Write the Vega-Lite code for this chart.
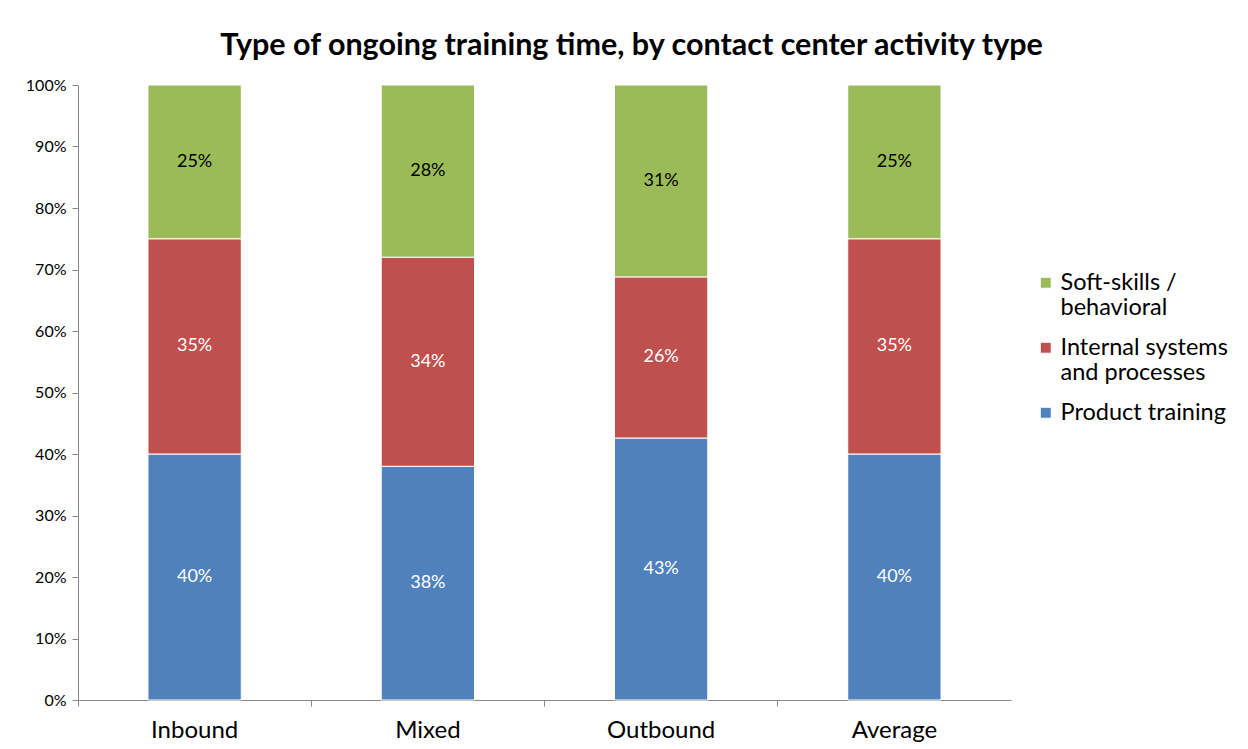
{
  "$schema": "https://vega.github.io/schema/vega-lite/v6.json",
  "width": 933,
  "height": 615,
  "padding": {"left": 25, "top": 30, "right": 5, "bottom": 5},
  "background": "white",
  "title": {
    "text": "Type of ongoing training time, by contact center activity type",
    "font": "Lato",
    "fontSize": 30.5,
    "fontWeight": "bold",
    "color": "#000000",
    "anchor": "middle",
    "dx": 87,
    "offset": 16
  },
  "data": {
    "values": [
      {"activity": "Inbound", "type": "Product training", "value": 0.40},
      {"activity": "Inbound", "type": "Internal systems|and processes", "value": 0.35},
      {"activity": "Inbound", "type": "Soft-skills /|behavioral", "value": 0.25},
      {"activity": "Mixed", "type": "Product training", "value": 0.38},
      {"activity": "Mixed", "type": "Internal systems|and processes", "value": 0.34},
      {"activity": "Mixed", "type": "Soft-skills /|behavioral", "value": 0.28},
      {"activity": "Outbound", "type": "Product training", "value": 0.426},
      {"activity": "Outbound", "type": "Internal systems|and processes", "value": 0.262},
      {"activity": "Outbound", "type": "Soft-skills /|behavioral", "value": 0.312},
      {"activity": "Average", "type": "Product training", "value": 0.40},
      {"activity": "Average", "type": "Internal systems|and processes", "value": 0.35},
      {"activity": "Average", "type": "Soft-skills /|behavioral", "value": 0.25}
    ]
  },
  "transform": [
    {"calculate": "indexof(['Product training','Internal systems|and processes','Soft-skills /|behavioral'], datum.type)", "as": "stackOrder"},
    {"stack": "value", "groupby": ["activity"], "sort": [{"field": "stackOrder", "order": "ascending"}], "as": ["y0", "y1"]},
    {"calculate": "(datum.y0 + datum.y1) / 2", "as": "ymid"}
  ],
  "encoding": {
    "x": {
      "field": "activity",
      "type": "nominal",
      "sort": ["Inbound", "Mixed", "Outbound", "Average"],
      "scale": {"paddingInner": 0.6, "paddingOuter": 0.3},
      "axis": {
        "title": null,
        "labelAngle": 0,
        "labelFont": "Lato",
        "labelFontSize": 24,
        "labelColor": "#000000",
        "labelPadding": 12,
        "bandPosition": -0.75,
        "domainColor": "#888888",
        "tickColor": "#888888",
        "tickSize": 6
      }
    }
  },
  "layer": [
    {
      "mark": {"type": "bar", "stroke": "#ffffff", "strokeWidth": 1},
      "encoding": {
        "y": {
          "field": "y0",
          "type": "quantitative",
          "scale": {"domain": [0, 1], "nice": false},
          "axis": {
            "title": null,
            "values": [0, 0.1, 0.2, 0.3, 0.4, 0.5, 0.6, 0.7, 0.8, 0.9, 1.0],
            "format": ".0%",
            "grid": false,
            "labelFont": "Lato",
            "labelFontSize": 16,
            "labelColor": "#000000",
            "labelPadding": 6,
            "domainColor": "#888888",
            "tickColor": "#888888",
            "tickSize": 6
          }
        },
        "y2": {"field": "y1"},
        "color": {
          "field": "type",
          "type": "nominal",
          "scale": {
            "domain": ["Soft-skills /|behavioral", "Internal systems|and processes", "Product training"],
            "range": ["#9BBB59", "#C0504D", "#4F81BD"]
          },
          "legend": {
            "title": null,
            "orient": "none",
            "legendX": 956,
            "legendY": 186,
            "labelExpr": "split(datum.label, '|')",
            "labelFont": "Lato",
            "labelFontSize": 23.5,
            "labelColor": "#000000",
            "labelLimit": 300,
            "symbolType": "square",
            "symbolSize": 120,
            "symbolStrokeColor": "#ffffff",
            "symbolStrokeWidth": 1,
            "rowPadding": 15,
            "labelOffset": 3
          }
        }
      }
    },
    {
      "mark": {"type": "text", "font": "Lato", "fontSize": 18, "baseline": "middle"},
      "encoding": {
        "y": {"field": "ymid", "type": "quantitative"},
        "text": {"field": "value", "type": "quantitative", "format": ".0%"},
        "color": {
          "condition": {"test": "datum.stackOrder == 2", "value": "#000000"},
          "value": "#ffffff"
        }
      }
    }
  ],
  "config": {"view": {"stroke": null}}
}
